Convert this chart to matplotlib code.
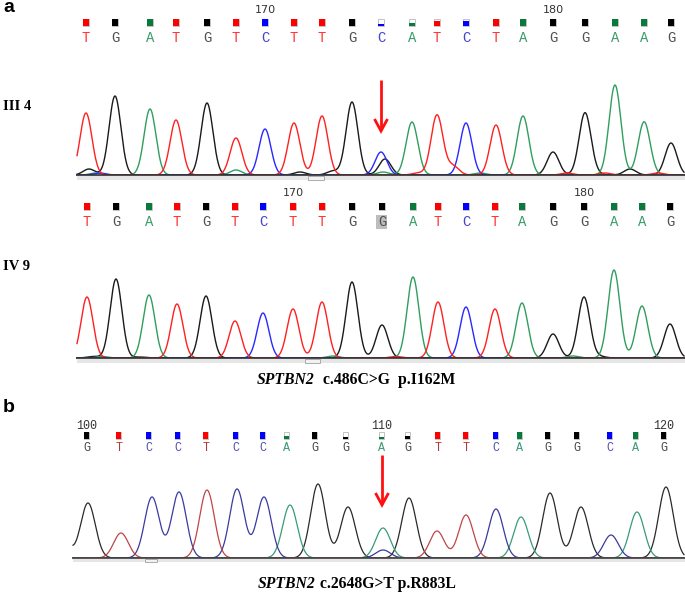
import numpy as np
import matplotlib
matplotlib.use("Agg")
import matplotlib.pyplot as plt
from matplotlib.patches import Rectangle

# ------------------------------------------------------------------ data
# Panel a, upper trace (III 4)
a1_bases = list("TGATGTCTTGCATCTAGGAAG")
a1_pos = [86, 115, 150, 176, 207, 236, 265, 294, 322, 352, 381, 412, 437, 466, 496, 523, 553, 585, 615, 644, 671]
a1_height = [62, 79, 66, 55, 72, 37, 46, 52, 59, 73, 23, 53, 60, 52, 50, 59, 23, 62, 90, 52, 32]
a1_quality = [1, 1, 1, 1, 1, 1, 1, 1, 1, 1, 0.3, 0.5, 0.7, 0.7, 1, 1, 1, 1, 1, 1, 1]
a1_minor_base = list("GCAAGGAGTTAGTTTGA")
a1_minor_pos = [89, 100, 96, 236, 300, 333, 383, 385, 453, 418, 480, 630, 567, 605, 658, 595, 650]
a1_minor_height = [6, 2, 2, 5, 3, 4, 3, 16, 9, 2, 2, 6, 2, 2, 2, 1.5, 2]
a1_ticks = {6: "170", 16: "180"}

# Panel a, lower trace (IV 9)
a2_bases = list("TGATGTCTTGGATCTAGGAAG")
a2_pos = [87, 116, 149, 177, 206, 235, 263, 293, 322, 352, 382, 413, 438, 466, 495, 522, 553, 584, 614, 642, 670]
a2_height = [61, 79, 63, 54, 62, 37, 45, 49, 56, 76, 33, 81, 56, 51, 49, 55, 24, 61, 88, 52, 34]
a2_quality = [1] * 21
a2_minor_base = list("GAGATAG")
a2_minor_pos = [93, 102, 140, 333, 396, 573, 600]
a2_minor_height = [1.5, 1.5, 1, 2, 1.5, 2, 1.5]
a2_ticks = {7: "170", 17: "180"}
a2_highlight = 10

# Panel b
b_bases = list("GTCCTCCAGGAGTTCAGGCAG")
b_call_pos = [87, 119, 149, 178, 206, 236, 263, 287, 315, 346, 382, 408, 438, 466, 496, 520, 548, 577, 610, 636, 664]
b_peak_pos = [88, 121, 152, 179, 207, 237, 264, 290, 318, 348, 383, 409, 437, 466, 496, 521, 550, 581, 611, 637, 666]
b_height = [55, 25, 61, 66, 68, 69, 61, 53, 74, 51, 30, 60, 27, 43, 49, 41, 65, 51, 23, 46, 71]
b_quality = [1, 1, 1, 1, 1, 1, 1, 0.4, 1, 0.3, 0.2, 0.5, 1, 1, 1, 1, 1, 1, 1, 1, 1]
b_minor_base = list("GC")
b_minor_pos = [60, 383]
b_minor_height = [30, 8]
b_ticks = {0: "100", 10: "110", 20: "120"}

row_labels = ["III 4", "IV 9"]
caption_a = ("SPTBN2", "  c.486C>G  p.I162M")
caption_b = ("SPTBN2", " c.2648G>T p.R883L")
arrow_a_index = 10
arrow_b_index = 10

# ------------------------------------------------------------------ styles
W, H = 685, 595
fig = plt.figure(figsize=(W / 100, H / 100), dpi=100)

trace_col_a = {"A": "#2f9e5e", "C": "#2828ff", "G": "#1a1a1a", "T": "#ff2020"}
trace_col_b = {"A": "#3a9a7a", "C": "#3a3aa0", "G": "#2a2a2a", "T": "#c04545"}
sq_col = {"A": "#0a7a3c", "C": "#0000ff", "G": "#000000", "T": "#ff0000"}
let_col_a = {"A": "#3a9a6a", "C": "#4545cc", "G": "#555050", "T": "#ff3333"}
let_col_b = {"A": "#3a9a7a", "C": "#5050aa", "G": "#444444", "T": "#b03a3a"}


def px_axes(x0, y0, x1, y1):
    return fig.add_axes([x0 / W, 1 - y1 / H, (x1 - x0) / W, (y1 - y0) / H])


def draw_trace(x0, x1, base_y, top_y, pos, bases, heights, mpos, mbases, mheights,
               sigma, colors, lw):
    ax = px_axes(x0, top_y, x1, base_y)
    ax.set_xlim(x0, x1)
    ax.set_ylim(0, base_y - top_y)
    ax.axis("off")
    xs = np.linspace(x0, x1, 2000)
    sig = {b: np.zeros_like(xs) for b in "ACGT"}
    for p, b, h in zip(list(pos) + list(mpos), list(bases) + list(mbases),
                       list(heights) + list(mheights)):
        sig[b] += h * np.exp(-0.5 * ((xs - p) / sigma) ** 2)
    for b in "GACT":
        ax.plot(xs, sig[b], color=colors[b], lw=lw, solid_joinstyle="round",
                clip_on=False, zorder=2)
    return ax


# trace axes
draw_trace(77, 684, 175, 70, a1_pos, a1_bases, a1_height,
           a1_minor_pos, a1_minor_base, a1_minor_height, 5.9, trace_col_a, 1.0)
draw_trace(77, 684, 358, 253, a2_pos, a2_bases, a2_height,
           a2_minor_pos, a2_minor_base, a2_minor_height, 5.9, trace_col_a, 1.0)
draw_trace(73, 684, 558, 470, b_peak_pos, b_bases, b_height,
           b_minor_pos, b_minor_base, b_minor_height, 7.3, trace_col_b, 0.9)

# overlay axes in pixel coordinates for annotations
ov = fig.add_axes([0, 0, 1, 1])
ov.set_xlim(0, W)
ov.set_ylim(H, 0)
ov.axis("off")
ov.patch.set_alpha(0)


def baseline(x0, x1, y, strip, box_x, box_w, lc="#303030"):
    ov.add_patch(Rectangle((x0, y), x1 - x0, strip, facecolor="#e6e6e6",
                           edgecolor="none", zorder=1))
    ov.add_patch(Rectangle((box_x, y + 0.5), box_w, strip - 1, facecolor="#f2f2f2",
                           edgecolor="#a0a0a0", lw=0.6, zorder=1))
    ov.plot([x0, x1], [y, y], color=lc, lw=1.2, zorder=3)


baseline(77, 685, 175, 5, 308, 16)
baseline(77, 685, 358, 5, 305, 15)
baseline(73, 685, 558, 4, 145, 12, lc="#404040")


def call_row(pos, bases, quality, ticks, y_num, y_sq, y_let, sq_w, sq_h,
             let_cols, let_size, num_size, num_family, highlight=None):
    for i, (p, b, q) in enumerate(zip(pos, bases, quality)):
        ov.add_patch(Rectangle((p - sq_w / 2, y_sq - sq_h / 2), sq_w, sq_h,
                               facecolor="white", edgecolor="#b8b8b8", lw=0.6, zorder=4))
        ov.add_patch(Rectangle((p - sq_w / 2, y_sq + sq_h / 2 - sq_h * q), sq_w, sq_h * q,
                               facecolor=sq_col[b], edgecolor="none", zorder=5))
        if highlight is not None and i == highlight:
            ov.add_patch(Rectangle((p - 5.5, y_let - 7), 11, 14, facecolor="#bdbdbd",
                                   edgecolor="none", zorder=4))
        ov.text(p, y_let, b, color=let_cols[b], fontsize=let_size, family="Liberation Mono",
                ha="center", va="center", zorder=6)
    for i, t in ticks.items():
        ov.text(pos[i], y_num, t, color="#333333", fontsize=num_size, family=num_family,
                ha="center", va="center", zorder=6)


call_row(a1_pos, a1_bases, a1_quality, a1_ticks, 10, 22.5, 38, 6, 7,
         let_col_a, 10, 8, "DejaVu Sans")
call_row(a2_pos, a2_bases, a2_quality, a2_ticks, 193, 206, 222, 6, 7,
         let_col_a, 10, 8, "DejaVu Sans", highlight=a2_highlight)
call_row(b_call_pos, b_bases, b_quality, b_ticks, 426, 435.5, 448, 5, 6.5,
         let_col_b, 8.5, 8.5, "Liberation Mono")

# panel letters and row labels
ov.text(3, 8, "a", fontsize=14, fontweight="bold", family="Liberation Sans",
        ha="left", va="center")
ov.text(3, 407, "b", fontsize=14, fontweight="bold", family="Liberation Sans",
        ha="left", va="center")
ov.text(3, 106, row_labels[0], fontsize=10.5, fontweight="bold", family="Liberation Serif",
        ha="left", va="center")
ov.text(3, 266, row_labels[1], fontsize=10.5, fontweight="bold", family="Liberation Serif",
        ha="left", va="center")

# arrows
for x, y0, y1 in [(a1_pos[arrow_a_index], 80, 131), (b_call_pos[arrow_b_index], 455, 505)]:
    ov.plot([x, x], [y0, y1 - 1], color="#ff1010", lw=2, solid_capstyle="butt", zorder=7)
    ov.plot([x - 6.5, x, x + 6.5], [y1 - 12, y1, y1 - 12], color="#ff1010", lw=2,
            solid_capstyle="butt", solid_joinstyle="miter", zorder=7)


def caption(x, y, parts):
    t1 = ov.text(x, y, parts[0], fontsize=11.3, fontweight="bold", fontstyle="italic",
                 family="Liberation Serif", ha="left", va="bottom")
    ov.annotate(parts[1], xy=(1, 0), xycoords=t1, fontsize=11.3, fontweight="bold",
                family="Liberation Serif", ha="left", va="bottom")


caption(257, 388, caption_a)
caption(258, 592, caption_b)

fig.savefig("out.png", dpi=100)
